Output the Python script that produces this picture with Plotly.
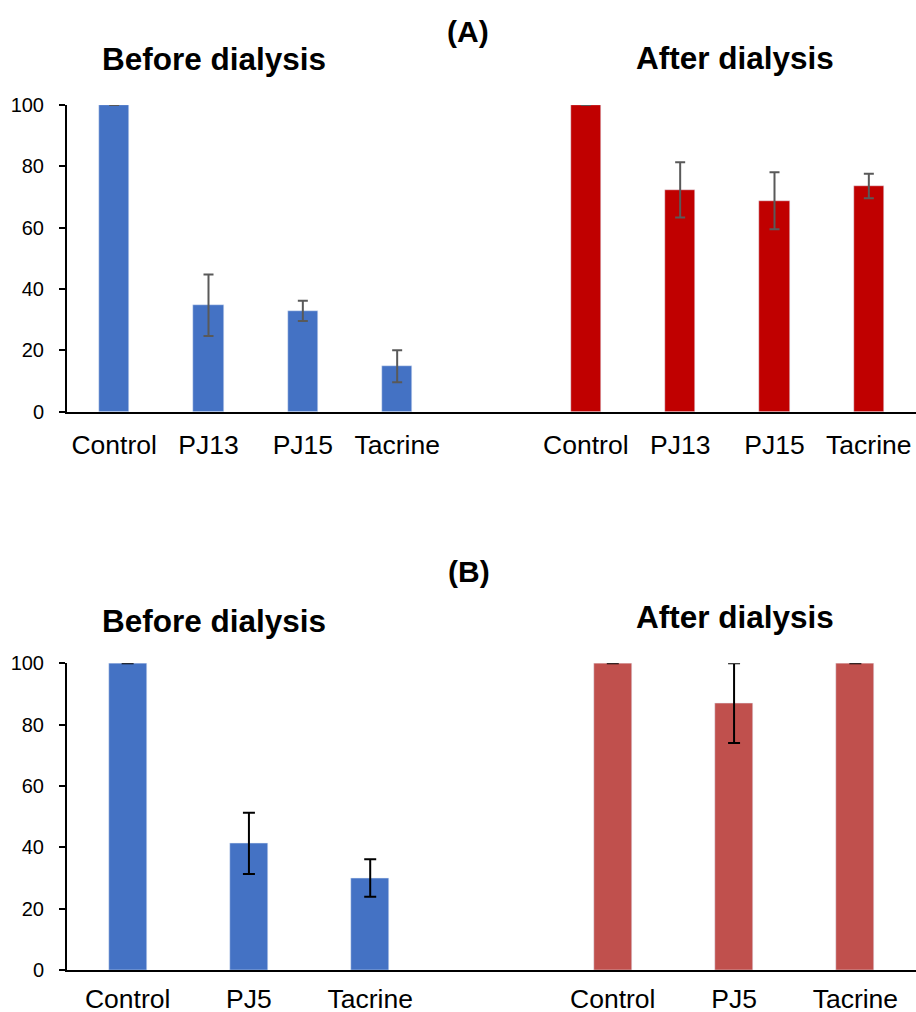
import plotly.graph_objects as go

# ---- data ----
cats_a = ["Control", "PJ13", "PJ15", "Tacrine"]
before_a = [100, 34.7, 32.9, 14.8]
before_a_err = [0, 10.0, 3.3, 5.2]
after_a = [100, 72.3, 68.8, 73.6]
after_a_err = [0, 9.0, 9.3, 4.0]

cats_b = ["Control", "PJ5", "Tacrine"]
before_b = [100, 41.3, 30.0]
before_b_err = [0, 10.0, 6.1]
after_b = [100, 87.0, 100]
after_b_err = [0, 13.0, 0]

yticks = [0, 20, 40, 60, 80, 100]

W, H = 916, 1012
L = 67
FONT = "Arial, Liberation Sans, Helvetica, sans-serif"

def px_y(p):
    return 1 - p / H

def px_x(p):
    return (p - L) / (W - L)

fig = go.Figure()

na = len(cats_a)
pos_a_before = list(range(na))
pos_a_after = [i + na + 1 for i in range(na)]
nb = len(cats_b)
pos_b_before = list(range(nb))
pos_b_after = [i + nb + 1 for i in range(nb)]

fig.add_trace(go.Bar(x=pos_a_before, y=before_a, width=0.32, marker_color="#4472C4",
                     error_y=dict(type="data", array=before_a_err, color="#595959", thickness=2, width=5),
                     xaxis="x", yaxis="y", cliponaxis=False, showlegend=False))
fig.add_trace(go.Bar(x=pos_a_after, y=after_a, width=0.32, marker_color="#C00000",
                     error_y=dict(type="data", array=after_a_err, color="#595959", thickness=2, width=5),
                     xaxis="x", yaxis="y", cliponaxis=False, showlegend=False))
fig.add_trace(go.Bar(x=pos_b_before, y=before_b, width=0.313, marker_color="#4472C4",
                     error_y=dict(type="data", array=before_b_err, color="#000000", thickness=2, width=6),
                     xaxis="x2", yaxis="y2", cliponaxis=False, showlegend=False))
fig.add_trace(go.Bar(x=pos_b_after, y=after_b, width=0.313, marker_color="#C0504D",
                     error_y=dict(type="data", array=after_b_err, color="#000000", thickness=2, width=6),
                     xaxis="x2", yaxis="y2", cliponaxis=False, showlegend=False))

xcommon = dict(showgrid=False, zeroline=False, showline=True, linecolor="black", linewidth=2,
               ticks="", tickfont=dict(family=FONT, size=26.5, color="black"), automargin=False)
ycommon = dict(range=[0, 100], tickvals=yticks, showgrid=False, zeroline=False, showline=True,
               linecolor="black", linewidth=2, ticks="outside", ticklen=6, tickwidth=2,
               tickcolor="black", tickfont=dict(family=FONT, size=20, color="black"),
               automargin=False, ticklabelstandoff=11)

fig.update_layout(
    width=W, height=H,
    margin=dict(l=L, r=0, t=0, b=0),
    paper_bgcolor="white", plot_bgcolor="white",
    xaxis=dict(domain=[0, 1], range=[-0.5, 2 * na + 0.5], tickvals=pos_a_before + pos_a_after,
               ticktext=cats_a + cats_a, anchor="y", ticklabelstandoff=8, **xcommon),
    yaxis=dict(domain=[px_y(411.7), px_y(105)], anchor="x", **ycommon),
    xaxis2=dict(domain=[0, 1], range=[-0.5, 2 * nb + 0.5], tickvals=pos_b_before + pos_b_after,
                ticktext=cats_b + cats_b, anchor="y2", ticklabelstandoff=4, **xcommon),
    yaxis2=dict(domain=[px_y(970), px_y(663.3)], anchor="x2", **ycommon),
    bargap=0,
)

def ann(text, xp, yp, size):
    fig.add_annotation(text="<b>" + text + "</b>", x=px_x(xp), y=px_y(yp), xref="paper", yref="paper",
                       xanchor="center", yanchor="middle", showarrow=False,
                       font=dict(family=FONT, size=size, color="black"))

ann("(A)", 468, 31, 30)
ann("Before dialysis", 214, 59, 31.5)
ann("After dialysis", 735, 58, 31.5)
ann("(B)", 469, 571, 30)
ann("Before dialysis", 214, 621, 31.5)
ann("After dialysis", 735, 617, 31.5)

fig.write_html("out.html", config={"displayModeBar": False},
               post_script="document.body.style.margin='0';document.body.style.overflow='hidden';")
